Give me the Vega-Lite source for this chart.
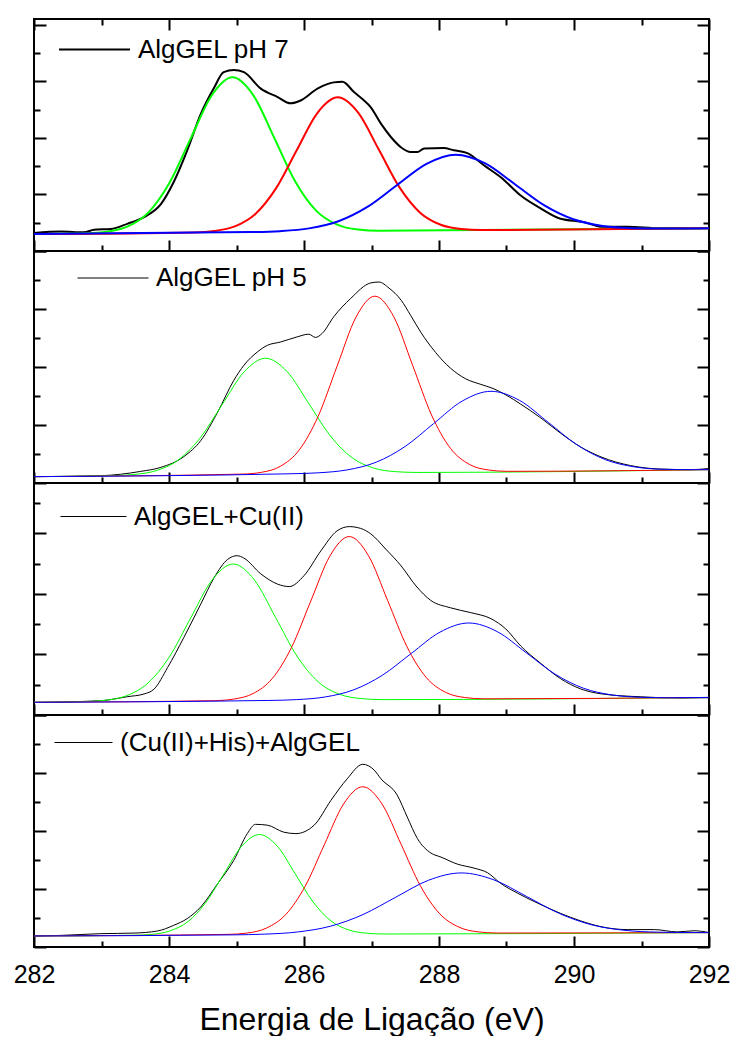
{
"$schema":"https://vega.github.io/schema/vega-lite/v6.json",
"padding":{"left":12,"top":12,"right":0,"bottom":0},
"background":"white",
"bounds":"flush",
"config":{"view":{"stroke":"black","strokeWidth":2},
 "axis":{"domain":false,"grid":false,"tickColor":"black","tickWidth":2,"labelFont":"Liberation Sans","labelFontSize":25,"labelColor":"black","labelFlush":false,"titleFont":"Liberation Sans","titleFontSize":32,"titleFontWeight":"normal","titleColor":"black"},
 "legend":{"orient":"none","symbolType":"stroke","labelFont":"Liberation Sans","labelFontSize":26,"labelColor":"black","labelOffset":7,"labelLimit":500,"padding":0,"title":null}},
"spacing":0,
"resolve":{"scale":{"y":"independent","color":"independent"},"legend":{"color":"independent"}},
"datasets":{
"p1":[
{"E":282.00,"I":0.32,"c":"exp"},{"E":282.40,"I":0.345,"c":"exp"},{"E":282.74,"I":0.33,"c":"exp"},{"E":282.89,"I":0.375,"c":"exp"},{"E":283.14,"I":0.39,"c":"exp"},{"E":283.38,"I":0.48,"c":"exp"},{"E":283.63,"I":0.60,"c":"exp"},{"E":283.88,"I":0.83,"c":"exp"},{"E":284.07,"I":1.22,"c":"exp"},{"E":284.27,"I":1.78,"c":"exp"},{"E":284.47,"I":2.42,"c":"exp"},{"E":284.67,"I":2.89,"c":"exp"},{"E":284.81,"I":3.16,"c":"exp"},{"E":284.96,"I":3.20,"c":"exp"},{"E":285.11,"I":3.16,"c":"exp"},{"E":285.36,"I":2.87,"c":"exp"},{"E":285.61,"I":2.72,"c":"exp"},{"E":285.80,"I":2.61,"c":"exp"},{"E":285.95,"I":2.66,"c":"exp"},{"E":286.20,"I":2.87,"c":"exp"},{"E":286.44,"I":2.98,"c":"exp"},{"E":286.57,"I":2.99,"c":"exp"},{"E":286.74,"I":2.81,"c":"exp"},{"E":286.87,"I":2.68,"c":"exp"},{"E":286.99,"I":2.54,"c":"exp"},{"E":287.14,"I":2.25,"c":"exp"},{"E":287.29,"I":2.01,"c":"exp"},{"E":287.44,"I":1.83,"c":"exp"},{"E":287.58,"I":1.75,"c":"exp"},{"E":287.68,"I":1.75,"c":"exp"},{"E":287.78,"I":1.81,"c":"exp"},{"E":288.07,"I":1.82,"c":"exp"},{"E":288.22,"I":1.78,"c":"exp"},{"E":288.42,"I":1.73,"c":"exp"},{"E":288.67,"I":1.51,"c":"exp"},{"E":288.92,"I":1.30,"c":"exp"},{"E":289.21,"I":0.98,"c":"exp"},{"E":289.51,"I":0.75,"c":"exp"},{"E":289.80,"I":0.57,"c":"exp"},{"E":290.15,"I":0.51,"c":"exp"},{"E":290.40,"I":0.43,"c":"exp"},{"E":290.79,"I":0.43,"c":"exp"},{"E":291.28,"I":0.40,"c":"exp"},{"E":292.00,"I":0.40,"c":"exp"},
{"E":282,"I":0.30,"c":"p1"},{"E":282.77,"I":0.314,"c":"p1"},{"E":283.08,"I":0.341,"c":"p1"},{"E":283.39,"I":0.434,"c":"p1"},{"E":283.70,"I":0.688,"c":"p1"},{"E":284.01,"I":1.210,"c":"p1"},{"E":284.32,"I":1.985,"c":"p1"},{"E":284.63,"I":2.744,"c":"p1"},{"E":284.94,"I":3.069,"c":"p1"},{"E":285.25,"I":2.751,"c":"p1"},{"E":285.56,"I":1.998,"c":"p1"},{"E":285.87,"I":1.229,"c":"p1"},{"E":286.18,"I":0.713,"c":"p1"},{"E":286.49,"I":0.465,"c":"p1"},{"E":286.80,"I":0.378,"c":"p1"},{"E":287.11,"I":0.357,"c":"p1"},{"E":292,"I":0.40,"c":"p1"},
{"E":282,"I":0.30,"c":"p2"},{"E":284.365,"I":0.329,"c":"p2"},{"E":284.67,"I":0.353,"c":"p2"},{"E":284.975,"I":0.434,"c":"p2"},{"E":285.28,"I":0.654,"c":"p2"},{"E":285.585,"I":1.106,"c":"p2"},{"E":285.89,"I":1.776,"c":"p2"},{"E":286.195,"I":2.434,"c":"p2"},{"E":286.50,"I":2.715,"c":"p2"},{"E":286.805,"I":2.440,"c":"p2"},{"E":287.11,"I":1.788,"c":"p2"},{"E":287.415,"I":1.124,"c":"p2"},{"E":287.72,"I":0.678,"c":"p2"},{"E":288.025,"I":0.464,"c":"p2"},{"E":288.33,"I":0.389,"c":"p2"},{"E":288.635,"I":0.371,"c":"p2"},{"E":292,"I":0.40,"c":"p2"},
{"E":282,"I":0.30,"c":"p3"},{"E":285.205,"I":0.335,"c":"p3"},{"E":285.64,"I":0.351,"c":"p3"},{"E":286.075,"I":0.400,"c":"p3"},{"E":286.51,"I":0.526,"c":"p3"},{"E":286.945,"I":0.784,"c":"p3"},{"E":287.38,"I":1.167,"c":"p3"},{"E":287.815,"I":1.541,"c":"p3"},{"E":288.25,"I":1.703,"c":"p3"},{"E":288.685,"I":1.549,"c":"p3"},{"E":289.12,"I":1.184,"c":"p3"},{"E":289.555,"I":0.811,"c":"p3"},{"E":289.99,"I":0.561,"c":"p3"},{"E":290.425,"I":0.443,"c":"p3"},{"E":290.86,"I":0.404,"c":"p3"},{"E":291.295,"I":0.396,"c":"p3"},{"E":292,"I":0.40,"c":"p3"}
],
"p2":[
{"E":282.00,"I":0.109,"c":"exp"},{"E":282.99,"I":0.126,"c":"exp"},{"E":283.58,"I":0.20,"c":"exp"},{"E":283.88,"I":0.27,"c":"exp"},{"E":284.22,"I":0.455,"c":"exp"},{"E":284.47,"I":0.73,"c":"exp"},{"E":284.72,"I":1.22,"c":"exp"},{"E":284.96,"I":1.77,"c":"exp"},{"E":285.11,"I":2.03,"c":"exp"},{"E":285.31,"I":2.26,"c":"exp"},{"E":285.46,"I":2.375,"c":"exp"},{"E":285.65,"I":2.43,"c":"exp"},{"E":285.90,"I":2.52,"c":"exp"},{"E":286.07,"I":2.566,"c":"exp"},{"E":286.17,"I":2.51,"c":"exp"},{"E":286.27,"I":2.58,"c":"exp"},{"E":286.44,"I":2.865,"c":"exp"},{"E":286.69,"I":3.18,"c":"exp"},{"E":286.99,"I":3.45,"c":"exp"},{"E":287.11,"I":3.465,"c":"exp"},{"E":287.26,"I":3.36,"c":"exp"},{"E":287.44,"I":3.15,"c":"exp"},{"E":287.58,"I":2.89,"c":"exp"},{"E":287.73,"I":2.60,"c":"exp"},{"E":287.95,"I":2.25,"c":"exp"},{"E":288.17,"I":1.98,"c":"exp"},{"E":288.39,"I":1.80,"c":"exp"},{"E":288.62,"I":1.70,"c":"exp"},{"E":288.80,"I":1.63,"c":"exp"},{"E":288.99,"I":1.52,"c":"exp"},{"E":289.21,"I":1.36,"c":"exp"},{"E":289.51,"I":1.12,"c":"exp"},{"E":289.80,"I":0.86,"c":"exp"},{"E":290.10,"I":0.62,"c":"exp"},{"E":290.40,"I":0.45,"c":"exp"},{"E":290.84,"I":0.30,"c":"exp"},{"E":291.28,"I":0.24,"c":"exp"},{"E":291.73,"I":0.23,"c":"exp"},{"E":292.00,"I":0.25,"c":"exp"},
{"E":282,"I":0.11,"c":"p1"},{"E":283.19,"I":0.128,"c":"p1"},{"E":283.51,"I":0.150,"c":"p1"},{"E":283.83,"I":0.220,"c":"p1"},{"E":284.15,"I":0.407,"c":"p1"},{"E":284.47,"I":0.789,"c":"p1"},{"E":284.79,"I":1.356,"c":"p1"},{"E":285.11,"I":1.912,"c":"p1"},{"E":285.43,"I":2.151,"c":"p1"},{"E":285.75,"I":1.920,"c":"p1"},{"E":286.07,"I":1.372,"c":"p1"},{"E":286.39,"I":0.812,"c":"p1"},{"E":286.71,"I":0.438,"c":"p1"},{"E":287.03,"I":0.258,"c":"p1"},{"E":287.35,"I":0.196,"c":"p1"},{"E":287.67,"I":0.182,"c":"p1"},{"E":292,"I":0.23,"c":"p1"},
{"E":282,"I":0.11,"c":"p2"},{"E":285.09,"I":0.154,"c":"p2"},{"E":285.37,"I":0.184,"c":"p2"},{"E":285.65,"I":0.288,"c":"p2"},{"E":285.93,"I":0.570,"c":"p2"},{"E":286.21,"I":1.151,"c":"p2"},{"E":286.49,"I":2.014,"c":"p2"},{"E":286.77,"I":2.859,"c":"p2"},{"E":287.05,"I":3.221,"c":"p2"},{"E":287.33,"I":2.866,"c":"p2"},{"E":287.61,"I":2.027,"c":"p2"},{"E":287.89,"I":1.171,"c":"p2"},{"E":288.17,"I":0.597,"c":"p2"},{"E":288.45,"I":0.321,"c":"p2"},{"E":288.73,"I":0.225,"c":"p2"},{"E":289.01,"I":0.201,"c":"p2"},{"E":292,"I":0.23,"c":"p2"},
{"E":282,"I":0.11,"c":"p3"},{"E":285.795,"I":0.159,"c":"p3"},{"E":286.22,"I":0.176,"c":"p3"},{"E":286.645,"I":0.227,"c":"p3"},{"E":287.07,"I":0.359,"c":"p3"},{"E":287.495,"I":0.627,"c":"p3"},{"E":287.92,"I":1.024,"c":"p3"},{"E":288.345,"I":1.413,"c":"p3"},{"E":288.77,"I":1.581,"c":"p3"},{"E":289.195,"I":1.423,"c":"p3"},{"E":289.62,"I":1.044,"c":"p3"},{"E":290.045,"I":0.658,"c":"p3"},{"E":290.47,"I":0.400,"c":"p3"},{"E":290.895,"I":0.278,"c":"p3"},{"E":291.32,"I":0.237,"c":"p3"},{"E":291.745,"I":0.230,"c":"p3"},{"E":292,"I":0.23,"c":"p3"}
],
"p3":[
{"E":282.00,"I":0.208,"c":"exp"},{"E":282.99,"I":0.236,"c":"exp"},{"E":283.38,"I":0.302,"c":"exp"},{"E":283.63,"I":0.347,"c":"exp"},{"E":283.78,"I":0.429,"c":"exp"},{"E":283.98,"I":0.785,"c":"exp"},{"E":284.22,"I":1.28,"c":"exp"},{"E":284.47,"I":1.83,"c":"exp"},{"E":284.67,"I":2.27,"c":"exp"},{"E":284.87,"I":2.57,"c":"exp"},{"E":285.01,"I":2.63,"c":"exp"},{"E":285.11,"I":2.59,"c":"exp"},{"E":285.36,"I":2.33,"c":"exp"},{"E":285.61,"I":2.16,"c":"exp"},{"E":285.78,"I":2.12,"c":"exp"},{"E":286.00,"I":2.30,"c":"exp"},{"E":286.25,"I":2.71,"c":"exp"},{"E":286.49,"I":3.04,"c":"exp"},{"E":286.67,"I":3.11,"c":"exp"},{"E":286.84,"I":3.08,"c":"exp"},{"E":286.99,"I":2.99,"c":"exp"},{"E":287.21,"I":2.74,"c":"exp"},{"E":287.44,"I":2.46,"c":"exp"},{"E":287.66,"I":2.13,"c":"exp"},{"E":287.88,"I":1.89,"c":"exp"},{"E":288.17,"I":1.77,"c":"exp"},{"E":288.47,"I":1.69,"c":"exp"},{"E":288.77,"I":1.59,"c":"exp"},{"E":288.99,"I":1.42,"c":"exp"},{"E":289.21,"I":1.14,"c":"exp"},{"E":289.51,"I":0.85,"c":"exp"},{"E":289.80,"I":0.60,"c":"exp"},{"E":290.10,"I":0.43,"c":"exp"},{"E":290.40,"I":0.35,"c":"exp"},{"E":290.99,"I":0.30,"c":"exp"},{"E":291.58,"I":0.28,"c":"exp"},{"E":292.00,"I":0.285,"c":"exp"},
{"E":282,"I":0.21,"c":"p1"},{"E":282.745,"I":0.221,"c":"p1"},{"E":283.06,"I":0.243,"c":"p1"},{"E":283.375,"I":0.320,"c":"p1"},{"E":283.69,"I":0.529,"c":"p1"},{"E":284.005,"I":0.959,"c":"p1"},{"E":284.32,"I":1.599,"c":"p1"},{"E":284.635,"I":2.224,"c":"p1"},{"E":284.95,"I":2.493,"c":"p1"},{"E":285.265,"I":2.229,"c":"p1"},{"E":285.58,"I":1.608,"c":"p1"},{"E":285.895,"I":0.974,"c":"p1"},{"E":286.21,"I":0.548,"c":"p1"},{"E":286.525,"I":0.343,"c":"p1"},{"E":286.84,"I":0.272,"c":"p1"},{"E":287.155,"I":0.254,"c":"p1"},{"E":292,"I":0.29,"c":"p1"},
{"E":282,"I":0.21,"c":"p2"},{"E":284.675,"I":0.237,"c":"p2"},{"E":284.96,"I":0.263,"c":"p2"},{"E":285.245,"I":0.354,"c":"p2"},{"E":285.53,"I":0.602,"c":"p2"},{"E":285.815,"I":1.116,"c":"p2"},{"E":286.10,"I":1.880,"c":"p2"},{"E":286.385,"I":2.627,"c":"p2"},{"E":286.67,"I":2.946,"c":"p2"},{"E":286.955,"I":2.631,"c":"p2"},{"E":287.24,"I":1.888,"c":"p2"},{"E":287.525,"I":1.129,"c":"p2"},{"E":287.81,"I":0.620,"c":"p2"},{"E":288.095,"I":0.376,"c":"p2"},{"E":288.38,"I":0.289,"c":"p2"},{"E":288.665,"I":0.267,"c":"p2"},{"E":292,"I":0.29,"c":"p2"},
{"E":282,"I":0.21,"c":"p3"},{"E":285.465,"I":0.240,"c":"p3"},{"E":285.89,"I":0.254,"c":"p3"},{"E":286.315,"I":0.298,"c":"p3"},{"E":286.74,"I":0.417,"c":"p3"},{"E":287.165,"I":0.659,"c":"p3"},{"E":287.59,"I":1.017,"c":"p3"},{"E":288.015,"I":1.368,"c":"p3"},{"E":288.44,"I":1.519,"c":"p3"},{"E":288.865,"I":1.375,"c":"p3"},{"E":289.29,"I":1.030,"c":"p3"},{"E":289.715,"I":0.678,"c":"p3"},{"E":290.14,"I":0.442,"c":"p3"},{"E":290.565,"I":0.331,"c":"p3"},{"E":290.99,"I":0.293,"c":"p3"},{"E":291.415,"I":0.285,"c":"p3"},{"E":292,"I":0.29,"c":"p3"}
],
"p4":[
{"E":282.00,"I":0.19,"c":"exp"},{"E":282.40,"I":0.20,"c":"exp"},{"E":282.99,"I":0.23,"c":"exp"},{"E":283.48,"I":0.24,"c":"exp"},{"E":283.83,"I":0.276,"c":"exp"},{"E":284.07,"I":0.374,"c":"exp"},{"E":284.27,"I":0.49,"c":"exp"},{"E":284.47,"I":0.69,"c":"exp"},{"E":284.72,"I":1.09,"c":"exp"},{"E":284.96,"I":1.495,"c":"exp"},{"E":285.16,"I":1.955,"c":"exp"},{"E":285.28,"I":2.115,"c":"exp"},{"E":285.46,"I":2.10,"c":"exp"},{"E":285.70,"I":1.98,"c":"exp"},{"E":285.88,"I":1.955,"c":"exp"},{"E":286.15,"I":2.10,"c":"exp"},{"E":286.40,"I":2.53,"c":"exp"},{"E":286.64,"I":2.90,"c":"exp"},{"E":286.87,"I":3.15,"c":"exp"},{"E":287.04,"I":3.05,"c":"exp"},{"E":287.14,"I":2.90,"c":"exp"},{"E":287.38,"I":2.62,"c":"exp"},{"E":287.53,"I":2.24,"c":"exp"},{"E":287.68,"I":1.87,"c":"exp"},{"E":287.88,"I":1.62,"c":"exp"},{"E":288.03,"I":1.55,"c":"exp"},{"E":288.27,"I":1.43,"c":"exp"},{"E":288.52,"I":1.36,"c":"exp"},{"E":288.72,"I":1.28,"c":"exp"},{"E":288.91,"I":1.10,"c":"exp"},{"E":289.16,"I":0.93,"c":"exp"},{"E":289.51,"I":0.73,"c":"exp"},{"E":289.80,"I":0.58,"c":"exp"},{"E":290.10,"I":0.45,"c":"exp"},{"E":290.40,"I":0.35,"c":"exp"},{"E":290.79,"I":0.30,"c":"exp"},{"E":291.19,"I":0.30,"c":"exp"},{"E":291.53,"I":0.26,"c":"exp"},{"E":291.78,"I":0.28,"c":"exp"},{"E":292.00,"I":0.25,"c":"exp"},
{"E":282,"I":0.19,"c":"p1"},{"E":283.485,"I":0.203,"c":"p1"},{"E":283.75,"I":0.219,"c":"p1"},{"E":284.015,"I":0.278,"c":"p1"},{"E":284.28,"I":0.437,"c":"p1"},{"E":284.545,"I":0.767,"c":"p1"},{"E":284.81,"I":1.255,"c":"p1"},{"E":285.075,"I":1.735,"c":"p1"},{"E":285.34,"I":1.939,"c":"p1"},{"E":285.605,"I":1.738,"c":"p1"},{"E":285.87,"I":1.261,"c":"p1"},{"E":286.135,"I":0.776,"c":"p1"},{"E":286.40,"I":0.450,"c":"p1"},{"E":286.665,"I":0.293,"c":"p1"},{"E":286.93,"I":0.238,"c":"p1"},{"E":287.195,"I":0.224,"c":"p1"},{"E":292,"I":0.248,"c":"p1"},
{"E":282,"I":0.19,"c":"p2"},{"E":284.875,"I":0.218,"c":"p2"},{"E":285.16,"I":0.241,"c":"p2"},{"E":285.445,"I":0.327,"c":"p2"},{"E":285.73,"I":0.560,"c":"p2"},{"E":286.015,"I":1.043,"c":"p2"},{"E":286.30,"I":1.761,"c":"p2"},{"E":286.585,"I":2.463,"c":"p2"},{"E":286.87,"I":2.763,"c":"p2"},{"E":287.155,"I":2.467,"c":"p2"},{"E":287.44,"I":1.767,"c":"p2"},{"E":287.725,"I":1.053,"c":"p2"},{"E":288.01,"I":0.574,"c":"p2"},{"E":288.295,"I":0.343,"c":"p2"},{"E":288.58,"I":0.261,"c":"p2"},{"E":288.865,"I":0.241,"c":"p2"},{"E":292,"I":0.248,"c":"p2"},
{"E":282,"I":0.19,"c":"p3"},{"E":284.935,"I":0.209,"c":"p3"},{"E":285.42,"I":0.222,"c":"p3"},{"E":285.905,"I":0.259,"c":"p3"},{"E":286.39,"I":0.358,"c":"p3"},{"E":286.875,"I":0.560,"c":"p3"},{"E":287.36,"I":0.859,"c":"p3"},{"E":287.845,"I":1.151,"c":"p3"},{"E":288.33,"I":1.277,"c":"p3"},{"E":288.815,"I":1.157,"c":"p3"},{"E":289.30,"I":0.870,"c":"p3"},{"E":289.785,"I":0.577,"c":"p3"},{"E":290.27,"I":0.380,"c":"p3"},{"E":290.755,"I":0.287,"c":"p3"},{"E":291.24,"I":0.256,"c":"p3"},{"E":291.725,"I":0.249,"c":"p3"},{"E":292,"I":0.248,"c":"p3"}
]},
"vconcat":[
{"width":675,"height":232,"data":{"name":"p1"},
 "layer":[
  {"transform":[{"filter":"datum.c === 'exp'"}],
   "mark":{"type":"line","strokeWidth":2,"interpolate":"monotone"},
   "encoding":{
    "x":{"field":"E","type":"quantitative","scale":{"domain":[282,292],"nice":false,"zero":false},
      "axis":{"orient":"bottom","values":[282,283,284,285,286,287,288,289,290,291,292],"labels":false,"title":null,"tickSize":{"condition":{"test":"datum.value % 2 === 0","value":-11},"value":-6}}},
    "y":{"field":"I","type":"quantitative","scale":{"domain":[0,4.1],"nice":false,"zero":false},
      "axis":{"orient":"left","values":[0,0.5,1,1.5,2,2.5,3,3.5,4],"labels":false,"title":null,"tickSize":{"condition":{"test":"datum.value % 1 === 0","value":-12},"value":-6}}},
    "color":{"datum":"AlgGEL pH 7","type":"nominal","scale":{"range":["black"]},"legend":{"legendX":24,"legendY":-6,"symbolSize":5041,"symbolStrokeWidth":2}}}},
  {"transform":[{"filter":"datum.c !== 'exp'"}],
   "mark":{"type":"line","strokeWidth":2,"interpolate":"monotone"},
   "encoding":{
    "x":{"field":"E","type":"quantitative","axis":{"orient":"top","values":[282,283,284,285,286,287,288,289,290,291,292],"labels":false,"title":null,"tickSize":{"condition":{"test":"datum.value % 2 === 0","value":-11},"value":-6}}},
    "y":{"field":"I","type":"quantitative","axis":{"orient":"right","values":[0,0.5,1,1.5,2,2.5,3,3.5,4],"labels":false,"title":null,"tickSize":{"condition":{"test":"datum.value % 1 === 0","value":-12},"value":-6}}},
    "stroke":{"field":"c","type":"nominal","scale":{"domain":["p1","p2","p3"],"range":["#00ff00","#ff0000","#0000ff"]},"legend":null}}}
 ],
 "resolve":{"axis":{"x":"independent","y":"independent"}}},
{"width":675,"height":232,"data":{"name":"p2"},
 "layer":[
  {"transform":[{"filter":"datum.c === 'exp'"}],
   "mark":{"type":"line","strokeWidth":1,"interpolate":"monotone"},
   "encoding":{
    "x":{"field":"E","type":"quantitative","scale":{"domain":[282,292],"nice":false,"zero":false},
      "axis":{"orient":"bottom","values":[282,283,284,285,286,287,288,289,290,291,292],"labels":false,"title":null,"tickSize":{"condition":{"test":"datum.value % 2 === 0","value":-11},"value":-6}}},
    "y":{"field":"I","type":"quantitative","scale":{"domain":[0,4.0],"nice":false,"zero":false},
      "axis":{"orient":"left","values":[0,0.5,1,1.5,2,2.5,3,3.5,4],"labels":false,"title":null,"tickSize":{"condition":{"test":"datum.value % 1 === 0","value":-12},"value":-6}}},
    "color":{"datum":"AlgGEL pH 5","type":"nominal","scale":{"range":["black"]},"legend":{"legendX":43,"legendY":-9,"symbolSize":5041,"symbolStrokeWidth":1}}}},
  {"transform":[{"filter":"datum.c !== 'exp'"}],
   "mark":{"type":"line","strokeWidth":1,"interpolate":"monotone"},
   "encoding":{
    "x":{"field":"E","type":"quantitative","axis":null},
    "y":{"field":"I","type":"quantitative","axis":{"orient":"right","values":[0,0.5,1,1.5,2,2.5,3,3.5,4],"labels":false,"title":null,"tickSize":{"condition":{"test":"datum.value % 1 === 0","value":-12},"value":-6}}},
    "stroke":{"field":"c","type":"nominal","scale":{"domain":["p1","p2","p3"],"range":["#00ff00","#ff0000","#0000ff"]},"legend":null}}}
 ],
 "resolve":{"axis":{"x":"independent","y":"independent"}}},
{"width":675,"height":232,"data":{"name":"p3"},
 "layer":[
  {"transform":[{"filter":"datum.c === 'exp'"}],
   "mark":{"type":"line","strokeWidth":1,"interpolate":"monotone"},
   "encoding":{
    "x":{"field":"E","type":"quantitative","scale":{"domain":[282,292],"nice":false,"zero":false},
      "axis":{"orient":"bottom","values":[282,283,284,285,286,287,288,289,290,291,292],"labels":false,"title":null,"tickSize":{"condition":{"test":"datum.value % 2 === 0","value":-11},"value":-6}}},
    "y":{"field":"I","type":"quantitative","scale":{"domain":[0,3.83],"nice":false,"zero":false},
      "axis":{"orient":"left","values":[0,0.5,1,1.5,2,2.5,3,3.5],"labels":false,"title":null,"tickSize":{"condition":{"test":"datum.value % 1 === 0","value":-12},"value":-6}}},
    "color":{"datum":"AlgGEL+Cu(II)","type":"nominal","scale":{"range":["black"]},"legend":{"legendX":26,"legendY":0,"symbolSize":4356,"symbolStrokeWidth":1}}}},
  {"transform":[{"filter":"datum.c !== 'exp'"}],
   "mark":{"type":"line","strokeWidth":1,"interpolate":"monotone"},
   "encoding":{
    "x":{"field":"E","type":"quantitative","axis":null},
    "y":{"field":"I","type":"quantitative","axis":{"orient":"right","values":[0,0.5,1,1.5,2,2.5,3,3.5],"labels":false,"title":null,"tickSize":{"condition":{"test":"datum.value % 1 === 0","value":-12},"value":-6}}},
    "stroke":{"field":"c","type":"nominal","scale":{"domain":["p1","p2","p3"],"range":["#00ff00","#ff0000","#0000ff"]},"legend":null}}}
 ],
 "resolve":{"axis":{"x":"independent","y":"independent"}}},
{"width":675,"height":232,"data":{"name":"p4"},
 "layer":[
  {"transform":[{"filter":"datum.c === 'exp'"}],
   "mark":{"type":"line","strokeWidth":1,"interpolate":"monotone"},
   "encoding":{
    "x":{"field":"E","type":"quantitative","scale":{"domain":[282,292],"nice":false,"zero":false},
      "axis":{"orient":"bottom","values":[282,283,284,285,286,287,288,289,290,291,292],"labels":true,"labelExpr":"datum.value % 2 === 0 ? datum.label : ''","labelPadding":26,"title":"Energia de Ligação (eV)","titlePadding":17,"tickSize":{"condition":{"test":"datum.value % 2 === 0","value":-11},"value":-6}}},
    "y":{"field":"I","type":"quantitative","scale":{"domain":[0,4.0],"nice":false,"zero":false},
      "axis":{"orient":"left","values":[0,0.5,1,1.5,2,2.5,3,3.5,4],"labels":false,"title":null,"tickSize":{"condition":{"test":"datum.value % 1 === 0","value":-12},"value":-6}}},
    "color":{"datum":"(Cu(II)+His)+AlgGEL","type":"nominal","scale":{"range":["black"]},"legend":{"legendX":20,"legendY":-2,"symbolSize":3364,"symbolStrokeWidth":1}}}},
  {"transform":[{"filter":"datum.c !== 'exp'"}],
   "mark":{"type":"line","strokeWidth":1,"interpolate":"monotone"},
   "encoding":{
    "x":{"field":"E","type":"quantitative","axis":null},
    "y":{"field":"I","type":"quantitative","axis":{"orient":"right","values":[0,0.5,1,1.5,2,2.5,3,3.5,4],"labels":false,"title":null,"tickSize":{"condition":{"test":"datum.value % 1 === 0","value":-12},"value":-6}}},
    "stroke":{"field":"c","type":"nominal","scale":{"domain":["p1","p2","p3"],"range":["#00ff00","#ff0000","#0000ff"]},"legend":null}}}
 ],
 "resolve":{"axis":{"x":"independent","y":"independent"}}}
]
}
